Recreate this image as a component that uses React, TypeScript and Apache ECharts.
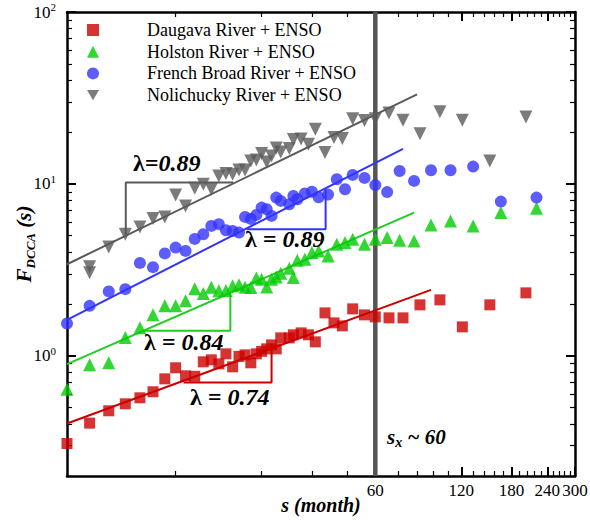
import { useEffect, useRef } from 'react';
import * as echarts from 'echarts';

const FONT = "'Liberation Serif', 'Times New Roman', Times, serif";

// Daugava River + ENSO
const redS = [5, 6, 7, 8, 9, 10, 11, 12, 13, 14, 15, 16, 17, 18, 19, 20, 21, 22, 23, 24, 25, 26, 27, 28, 30, 31, 33, 35, 37, 40, 43, 46, 50, 55, 60, 67, 75, 86, 101, 121, 151, 202];
const redF = [0.309, 0.406, 0.479, 0.526, 0.570, 0.618, 0.735, 0.852, 0.765, 0.760, 0.923, 0.948, 0.898, 1.027, 0.863, 0.993, 1.013, 0.911, 1.027, 1.062, 1.098, 1.158, 1.098, 1.272, 1.272, 1.325, 1.360, 1.325, 1.206, 1.778, 1.555, 1.494, 1.876, 1.731, 1.685, 1.663, 1.663, 1.980, 2.117, 1.474, 1.980, 2.324];

// Holston River + ENSO
const greenS = [5, 6, 7, 8, 9, 10, 11, 12, 13, 14, 15, 16, 17, 18, 19, 20, 21, 22, 23, 24, 25, 26, 27, 28, 30, 31, 32, 34, 36, 38, 41, 44, 47, 50, 55, 60, 66, 73, 82, 94, 110, 132, 165, 220];
const greenF = [0.640, 0.886, 0.911, 1.278, 1.455, 1.731, 1.953, 1.953, 2.088, 2.452, 2.303, 2.508, 2.388, 2.398, 2.553, 2.587, 2.502, 2.495, 2.841, 2.785, 2.518, 2.792, 2.879, 3.026, 3.236, 2.853, 3.592, 3.650, 3.986, 4.078, 3.814, 4.461, 4.557, 4.770, 4.461, 4.770, 4.873, 4.706, 4.662, 5.776, 6.094, 5.700, 6.811, 7.224];

// French Broad River + ENSO
const blueS = [5, 6, 7, 8, 9, 10, 11, 12, 13, 14, 15, 16, 17, 18, 19, 20, 21, 22, 23, 24, 25, 26, 27, 28, 30, 31, 32, 34, 36, 38, 41, 44, 47, 50, 55, 60, 66, 73, 82, 94, 110, 132, 165, 220];
const blueF = [1.541, 1.953, 2.371, 2.442, 3.473, 3.280, 3.944, 4.263, 4.078, 4.789, 5.100, 5.700, 5.832, 5.380, 5.330, 5.211, 6.430, 6.260, 6.603, 7.283, 7.129, 6.516, 8.324, 7.964, 7.621, 8.517, 8.147, 8.808, 9.010, 8.369, 8.666, 10.65, 9.316, 11.28, 10.84, 9.84, 8.960, 11.90, 10.41, 12.01, 12.01, 12.61, 7.890, 8.324];

// Nolichucky River + ENSO
const grayS = [6, 6, 7, 8, 9, 10, 11, 12, 13, 14, 15, 16, 17, 18, 19, 20, 21, 22, 23, 24, 25, 26, 27, 28, 30, 31, 33, 35, 37, 40, 43, 46, 50, 55, 60, 67, 75, 86, 101, 121, 151, 202];
const grayF = [3.293, 3.038, 4.302, 5.100, 5.623, 6.284, 6.430, 8.630, 7.449, 9.441, 9.961, 9.316, 11.13, 11.48, 11.39, 12.06, 12.06, 13.61, 13.79, 15.01, 13.43, 14.55, 16.19, 15.35, 16.09, 18.15, 18.26, 17.02, 20.80, 15.21, 18.59, 18.39, 23.93, 23.36, 23.93, 25.87, 23.46, 19.61, 26.32, 23.46, 13.61, 24.52];

// fitted power-law lines (endpoints)
const redFitS = [5, 94];
const redFitF = [0.404, 2.42];
const greenFitS = [5, 82];
const greenFitF = [0.895, 6.81];
const blueFitS = [5, 75];
const blueFitF = [1.62, 16.0];
const grayFitS = [5, 84];
const grayFitF = [3.41, 33.2];

// slope triangles
const redTriS = [12.8, 26.0, 26.0];
const redTriF = [0.70, 0.70, 1.09];
const greenTriS = [9.25, 18.65, 18.65];
const greenTriF = [1.40, 1.40, 2.32];
const blueTriS = [21.3, 40.2, 40.2];
const blueTriF = [5.44, 5.44, 9.3];
const grayTriS = [8.03, 8.03, 19.1];
const grayTriF = [5.05, 10.18, 10.18];

// crossover
const crossS = [60, 60];
const crossF = [0.2, 100];

// ticks
const xMajorTicks = [60, 120, 180, 240, 300];
const xMinorTicks = [12, 24, 36, 48, 72, 84, 96, 108, 132, 144, 156, 168, 192, 204, 216, 228, 252, 264, 276, 288];
const yMajorTicks = [1, 10, 100];
const yMinorTicks = [0.3, 0.4, 0.5, 0.6, 0.7, 0.8, 0.9, 2, 3, 4, 5, 6, 7, 8, 9, 20, 30, 40, 50, 60, 70, 80, 90];

const seriesNames = ['Daugava River + ENSO', 'Holston River + ENSO', 'French Broad River + ENSO', 'Nolichucky River + ENSO'];

const RED = '#cc0000';
const GREEN = '#00cc00';
const BLUE = '#3333ff';
const GRAY = '#5a5a5a';

const zip = (a: number[], b: number[]) => a.map((v, i) => [v, b[i]]);

function xAxisDef(position: 'bottom' | 'top', ticks: number[], len: number, major: boolean, labels: boolean) {
  return {
    type: 'log',
    logBase: 10,
    min: 5,
    max: 300,
    position,
    axisLine: { show: major, onZero: false, lineStyle: { color: '#000', width: 2.5 } },
    axisTick: { show: true, inside: true, length: len, customValues: ticks, lineStyle: { color: '#000', width: major ? 2 : 1.2 } },
    axisLabel: labels
      ? { show: true, customValues: xMajorTicks, fontFamily: FONT, fontSize: 17, color: '#000', margin: 6, formatter: (v: number) => String(Math.round(v)) }
      : { show: false },
    splitLine: { show: false },
    minorTick: { show: false },
    ...(labels
      ? {
          name: 's (month)',
          nameLocation: 'middle',
          nameGap: 19,
          nameMoveOverlap: false,
          nameTextStyle: { fontFamily: FONT, fontSize: 20, fontWeight: 'bold', fontStyle: 'italic', color: '#000' },
        }
      : {}),
  };
}

function yAxisDef(position: 'left' | 'right', ticks: number[], len: number, major: boolean, labels: boolean) {
  return {
    type: 'log',
    logBase: 10,
    min: 0.2,
    max: 100,
    position,
    axisLine: { show: major, onZero: false, lineStyle: { color: '#000', width: 2.5 } },
    axisTick: { show: true, inside: true, length: len, customValues: ticks, lineStyle: { color: '#000', width: major ? 2 : 1.2 } },
    axisLabel: labels
      ? {
          show: true,
          customValues: yMajorTicks,
          margin: 11,
          formatter: (v: number) => `{b|10}{e|${Math.round(Math.log10(v))}}`,
          rich: {
            b: { fontFamily: FONT, fontSize: 17, color: '#000', lineHeight: 22 },
            e: { fontFamily: FONT, fontSize: 11, color: '#000', verticalAlign: 'top', lineHeight: 12, height: 12 },
          },
        }
      : { show: false },
    splitLine: { show: false },
    minorTick: { show: false },
    ...(labels
      ? {
          name: '{f|F}{d|DCCA}{p| (s)}',
          nameLocation: 'middle',
          nameGap: 30,
          nameMoveOverlap: false,
          nameTextStyle: {
            rich: {
              f: { fontFamily: FONT, fontSize: 21, fontWeight: 'bold', fontStyle: 'italic', color: '#000', lineHeight: 26 },
              d: { fontFamily: FONT, fontSize: 13, fontWeight: 'bold', fontStyle: 'italic', color: '#000', verticalAlign: 'bottom', lineHeight: 14, height: 14 },
              p: { fontFamily: FONT, fontSize: 21, fontWeight: 'bold', fontStyle: 'italic', color: '#000', lineHeight: 26 },
            },
          },
        }
      : {}),
  };
}

function lineSeries(s: number[], f: number[], color: string, width: number, z = 3) {
  return {
    type: 'line',
    data: zip(s, f),
    showSymbol: false,
    symbol: 'none',
    silent: true,
    z,
    lineStyle: { color, width },
    xAxisIndex: 0,
    yAxisIndex: 0,
  };
}

function lambdaText(x: number, y: number, txt: string, fill = '#000') {
  return {
    type: 'text',
    x,
    y,
    z: 10,
    style: {
      text: `{l|λ}{n|${txt}}`,
      verticalAlign: 'middle',
      align: 'left',
      fill,
      rich: {
        l: { fontFamily: FONT, fontSize: 24, fontWeight: 'bold', color: fill },
        n: { fontFamily: FONT, fontSize: 24, fontWeight: 'bold', fontStyle: 'italic', color: fill },
      },
    },
  };
}

export default function App() {
  const ref = useRef<HTMLDivElement>(null);
  useEffect(() => {
    const chart = echarts.init(ref.current!, null, { renderer: 'svg' });
    const option: any = {
      animation: false,
      backgroundColor: '#fff',
      textStyle: { fontFamily: FONT },
      grid: { left: 67, right: 15, top: 12, bottom: 44, containLabel: false, outerBoundsMode: 'none' },
      legend: {
        show: true,
        orient: 'vertical',
        left: 87,
        top: 21,
        padding: 0,
        itemGap: 3.7,
        itemWidth: 12,
        itemHeight: 12,
        data: [
          { name: seriesNames[0], icon: 'rect' },
          { name: seriesNames[1], icon: 'triangle' },
          { name: seriesNames[2], icon: 'circle' },
          { name: seriesNames[3], icon: 'path://M0,0L20,0L10,17.3Z' },
        ],
        textStyle: { fontFamily: FONT, fontSize: 18, color: '#000', lineHeight: 18, padding: [0, 0, 0, 43] },
      },
      xAxis: [
        xAxisDef('bottom', xMajorTicks, 9, true, true),
        xAxisDef('bottom', xMinorTicks, 5, false, false),
        xAxisDef('top', xMajorTicks, 9, true, false),
        xAxisDef('top', xMinorTicks, 5, false, false),
      ],
      yAxis: [
        yAxisDef('left', yMajorTicks, 9, true, true),
        yAxisDef('left', yMinorTicks, 5, false, false),
        yAxisDef('right', yMajorTicks, 9, true, false),
        yAxisDef('right', yMinorTicks, 5, false, false),
      ],
      series: [
        lineSeries(crossS, crossF, '#555555', 4.5, 1),
        lineSeries(redFitS, redFitF, RED, 2),
        lineSeries(greenFitS, greenFitF, '#22cc22', 2),
        lineSeries(blueFitS, blueFitF, BLUE, 2),
        lineSeries(grayFitS, grayFitF, GRAY, 2),
        lineSeries(redTriS, redTriF, RED, 2),
        lineSeries(greenTriS, greenTriF, '#22cc22', 2),
        lineSeries(blueTriS, blueTriF, BLUE, 2),
        lineSeries(grayTriS, grayTriF, GRAY, 2),
        {
          name: seriesNames[0], type: 'scatter', data: zip(redS, redF), symbol: 'rect', symbolSize: 11,
          itemStyle: { color: RED }, z: 4, xAxisIndex: 0, yAxisIndex: 0,
        },
        {
          name: seriesNames[1], type: 'scatter', data: zip(greenS, greenF), symbol: 'triangle', symbolSize: 13,
          itemStyle: { color: GREEN }, z: 4, xAxisIndex: 0, yAxisIndex: 0,
        },
        {
          name: seriesNames[2], type: 'scatter', data: zip(blueS, blueF), symbol: 'circle', symbolSize: 12,
          itemStyle: { color: BLUE }, z: 4, xAxisIndex: 0, yAxisIndex: 0,
        },
        {
          name: seriesNames[3], type: 'scatter', data: zip(grayS, grayF), symbol: 'triangle', symbolRotate: 180, symbolSize: 13,
          itemStyle: { color: GRAY }, z: 4, xAxisIndex: 0, yAxisIndex: 0,
        },
      ],
      graphic: [
        lambdaText(133, 163, '=0.89'),
        lambdaText(245, 239, ' = 0.89'),
        lambdaText(144, 342, ' = 0.84'),
        lambdaText(190, 397, ' = 0.74'),
        {
          type: 'text',
          x: 387,
          y: 437,
          z: 10,
          style: {
            text: '{a|s}{b|x}{a| ~ 60}',
            verticalAlign: 'middle',
            align: 'left',
            rich: {
              a: { fontFamily: FONT, fontSize: 21, fontWeight: 'bold', fontStyle: 'italic', color: '#000', lineHeight: 26 },
              b: { fontFamily: FONT, fontSize: 14, fontWeight: 'bold', fontStyle: 'italic', color: '#000', verticalAlign: 'bottom', lineHeight: 16, height: 16 },
            },
          },
        },
      ],
    };
    chart.setOption(option);
    return () => chart.dispose();
  }, []);
  return <div ref={ref} style={{ position: 'absolute', left: 0, top: 0, width: 590, height: 520, background: '#fff' }} />;
}
